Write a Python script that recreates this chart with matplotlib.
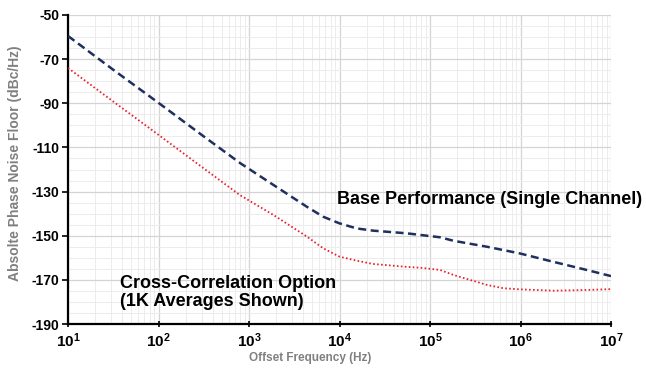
import math
import matplotlib
matplotlib.use("Agg")
import matplotlib.pyplot as plt
from matplotlib.ticker import FixedLocator, FuncFormatter, NullFormatter

plt.rcParams['font.family'] = ['Liberation Sans', 'DejaVu Sans']
plt.rcParams['mathtext.fontset'] = 'custom'
plt.rcParams['mathtext.rm'] = 'Liberation Sans:bold'
plt.rcParams['mathtext.bf'] = 'Liberation Sans:bold'
plt.rcParams['mathtext.it'] = 'Liberation Sans:bold'

# Data
base_freq = [10, 31.6, 100, 316, 805, 1862, 4365, 6607, 10000, 15490,
             23440, 54950, 128800, 182000, 426600, 977200, 2291000,
             5370000, 10000000]
base_noise = [-59.5, -74.8, -89.8, -105.0, -117.2, -127.0, -136.9, -141.4,
              -144.4, -146.7, -147.7, -148.9, -150.7, -152.3, -155.0,
              -158.0, -161.8, -165.5, -168.3]

xcorr_freq = [10, 31.6, 100, 316, 794, 1862, 4365, 6607, 10000, 15490,
              23440, 54950, 77600, 128800, 182000, 426600, 645700,
              977200, 2291000, 5370000, 10000000]
xcorr_noise = [-74.0, -89.2, -104.3, -119.5, -131.6, -140.6, -150.4,
               -155.7, -159.5, -161.3, -162.8, -164.1, -164.5, -165.5,
               -167.8, -172.3, -173.8, -174.3, -174.9, -174.6, -174.2]

yticks = [-50, -70, -90, -110, -130, -150, -170, -190]
xticks = [1e1, 1e2, 1e3, 1e4, 1e5, 1e6, 1e7]

fig = plt.figure(figsize=(6.46, 3.69), dpi=100)
ax = fig.add_axes([68/646, 1-324/369, (611-68)/646, (324-15)/369])

ax.plot(base_freq, base_noise, color='#1f2f5e', lw=1.8, ls=(0, (3.2, 1.8)), zorder=3)
ax.plot(xcorr_freq, xcorr_noise, color='#e8202a', lw=1.3, ls=(0, (0.9, 1.3)), zorder=3)

ax.set_xscale('log')
ax.set_xlim(10, 1e7)
ax.set_ylim(-190, -50)

ax.yaxis.set_major_locator(FixedLocator(yticks))
ax.yaxis.set_minor_locator(FixedLocator([v for v in range(-190, -49, 5) if v not in yticks]))
ax.xaxis.set_major_locator(FixedLocator(xticks))
ax.xaxis.set_major_formatter(FuncFormatter(lambda v, p: r'$\mathbf{10^{%d}}$' % round(math.log10(v))))
ax.xaxis.set_minor_formatter(NullFormatter())
ax.yaxis.set_major_formatter(FuncFormatter(lambda v, p: '%d' % v))

ax.grid(which='major', color='#d4d4d4', lw=0.9, zorder=0)
ax.grid(which='minor', color='#ececec', lw=0.7, zorder=0)
ax.set_axisbelow(True)

for s in ['top', 'right']:
    ax.spines[s].set_visible(False)
for s in ['left', 'bottom']:
    ax.spines[s].set_color('black')
    ax.spines[s].set_linewidth(1.6)

ax.tick_params(axis='y', which='major', direction='out', length=4, width=1.2,
               labelsize=10, pad=2)
ax.tick_params(axis='x', which='major', direction='inout', length=5, width=1.2,
               labelsize=11, pad=3)
ax.tick_params(which='minor', length=0)
for lab in ax.get_yticklabels():
    lab.set_fontweight('bold')

ax.set_xlabel('Offset Frequency (Hz)', fontsize=8.5, fontweight='bold', color='#808080', labelpad=4)
ax.xaxis.set_label_coords((310-68)/(611-68), -0.09)
ax.set_ylabel('Absolte Phase Noise Floor (dBc/Hz)', fontsize=10, fontweight='bold', color='#808080', labelpad=6)
ax.yaxis.set_label_coords(-46/(611-68), (324-163)/(324-15))

fig.text(337/646, 1-199/369, 'Base Performance (Single Channel)', fontsize=13,
         fontweight='bold', ha='left', va='center')
fig.text(120/646, 1-284/369, 'Cross-Correlation Option', fontsize=13,
         fontweight='bold', ha='left', va='center')
fig.text(120/646, 1-302/369, '(1K Averages Shown)', fontsize=13,
         fontweight='bold', ha='left', va='center')

fig.savefig('out.png', dpi=100)
